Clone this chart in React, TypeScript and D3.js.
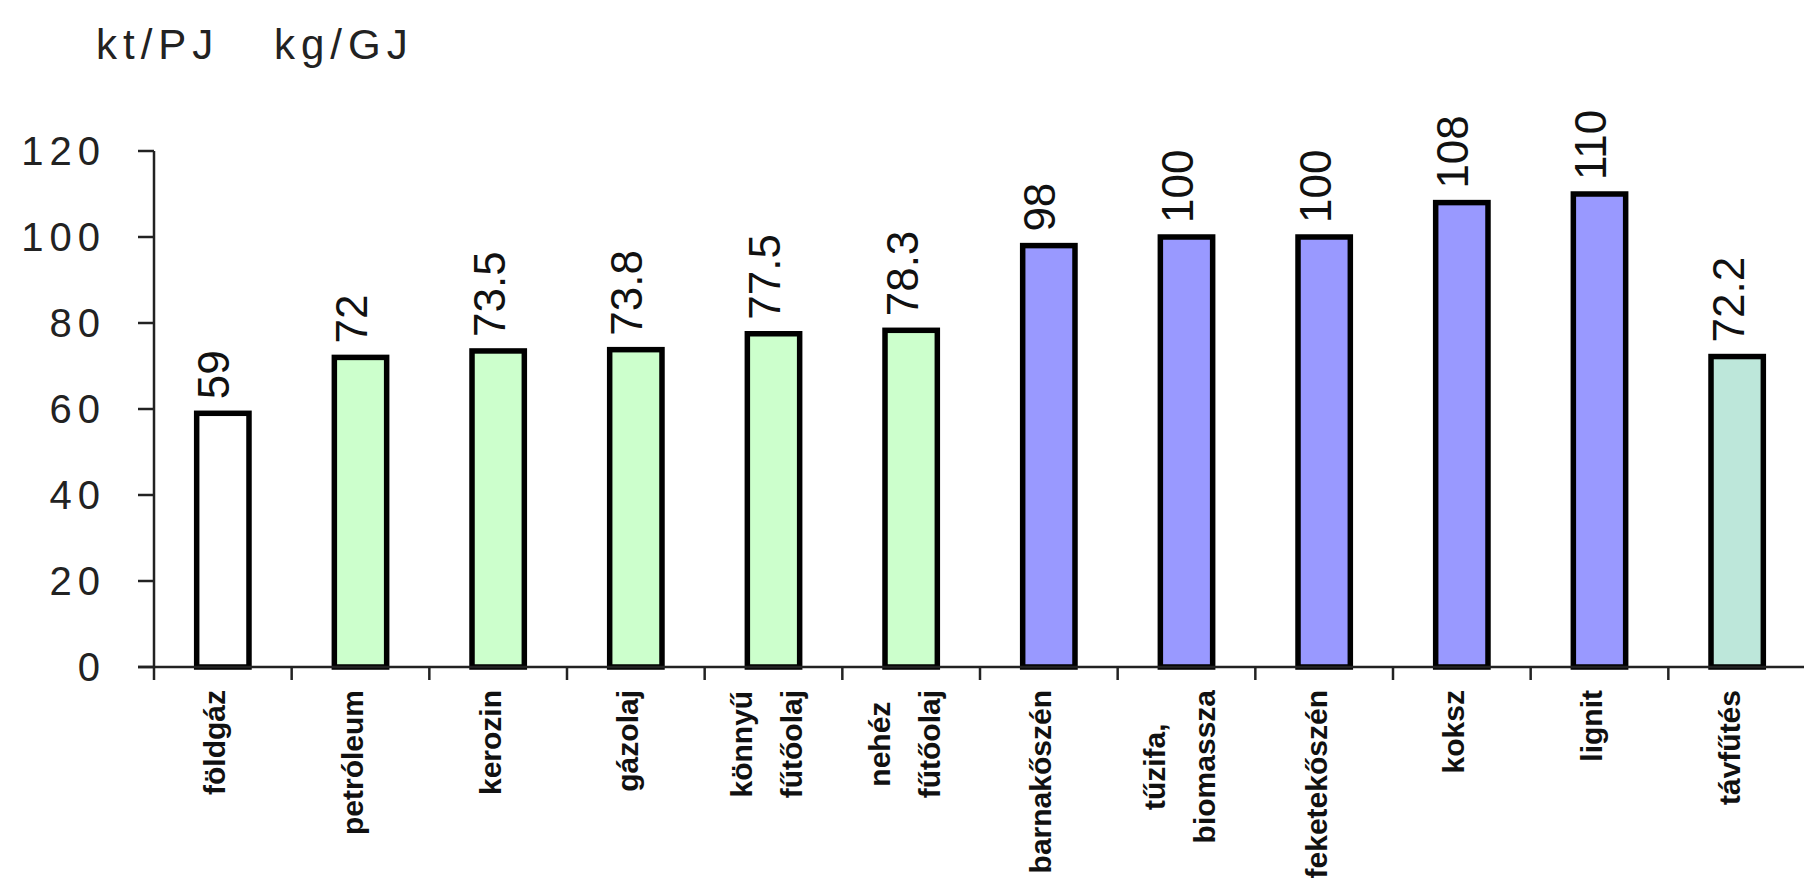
import React from 'react';
import * as d3 from 'd3';

const categories = [
  'földgáz', 'petróleum', 'kerozin', 'gázolaj', 'könnyű\nfűtőolaj', 'nehéz\nfűtőolaj',
  'barnakőszén', 'tűzifa,\nbiomassza', 'feketekőszén', 'koksz', 'lignit', 'távfűtés',
];
const values = [59, 72, 73.5, 73.8, 77.5, 78.3, 98, 100, 100, 108, 110, 72.2];
const groups = ['gas', 'oil', 'oil', 'oil', 'oil', 'oil', 'coal', 'coal', 'coal', 'coal', 'coal', 'heat'];
const groupNames = ['gas', 'oil', 'coal', 'heat'];
const groupColors = ['#ffffff', '#ccffcc', '#9999ff', '#bde7da'];
const yTicks = [0, 20, 40, 60, 80, 100, 120];
const unitLabels = ['kt/PJ', 'kg/GJ'];

const W = 1804;
const H = 884;
const catFont = 'bold 30px "Liberation Sans", Arial, sans-serif';

function measure(text: string, font: string): number {
  const ctx = document.createElement('canvas').getContext('2d');
  if (!ctx) return text.length * 15;
  ctx.font = font;
  return ctx.measureText(text).width;
}

export default function App() {
  const x = d3.scaleBand<string>().domain(categories).range([154, 1806]).padding(0);
  const y = d3.scaleLinear().domain([0, 120]).range([667, 151]);
  const color = d3.scaleOrdinal<string, string>().domain(groupNames).range(groupColors);
  const bw = x.bandwidth() * 0.38;
  const y0 = y(0);

  return (
    <svg width={W} height={H} style={{ position: 'absolute', left: 0, top: 0, background: '#fff' }}
      fontFamily='"Liberation Sans", Arial, sans-serif'>
      {/* unit labels */}
      <text x={96} y={59} fontSize={42} letterSpacing={6} fill="#222">{unitLabels[0]}</text>
      <text x={274} y={59} fontSize={42} letterSpacing={6} fill="#222">{unitLabels[1]}</text>

      {/* bars */}
      {categories.map((c, i) => {
        const cx = (x(c) as number) + x.bandwidth() / 2;
        return (
          <rect key={c} x={cx - bw / 2} y={y(values[i])} width={bw} height={y0 - y(values[i])}
            fill={color(groups[i])} stroke="#000" strokeWidth={5.5} />
        );
      })}

      {/* y axis */}
      <line x1={154} x2={154} y1={y(120)} y2={y0} stroke="#222" strokeWidth={2.5} />
      {yTicks.map((t) => (
        <g key={t}>
          <line x1={138} x2={154} y1={y(t)} y2={y(t)} stroke="#222" strokeWidth={2.5} />
          <text x={106} y={y(t)} fontSize={40} letterSpacing={6} textAnchor="end"
            dominantBaseline="central" fill="#222">{String(t)}</text>
        </g>
      ))}

      {/* x axis */}
      <line x1={138} x2={W} y1={y0} y2={y0} stroke="#222" strokeWidth={2.5} />
      {categories.map((c) => (
        <line key={'t' + c} x1={x(c) as number} x2={x(c) as number} y1={y0} y2={y0 + 13}
          stroke="#222" strokeWidth={2.5} />
      ))}

      {/* value labels */}
      {categories.map((c, i) => {
        const cx = (x(c) as number) + x.bandwidth() / 2;
        return (
          <g key={'v' + c} transform={`translate(${cx - 9},${y(values[i]) - 14}) rotate(-90)`}>
            <text fontSize={44} dominantBaseline="central" fill="#111">{String(values[i])}</text>
          </g>
        );
      })}

      {/* category labels */}
      {categories.map((c) => {
        const cx = (x(c) as number) + x.bandwidth() / 2;
        const lines = c.split('\n');
        const L = Math.max(...lines.map((l) => measure(l, catFont)));
        return (
          <g key={'c' + c} transform={`translate(${cx},690) rotate(-90)`}>
            {lines.length === 1 ? (
              <text y={-8} textAnchor="end" dominantBaseline="central" fontSize={30}
                fontWeight="bold" fill="#111">{lines[0]}</text>
            ) : (
              lines.map((l, k) => (
                <text key={k} x={-L / 2} y={k === 0 ? -32 : 18} textAnchor="middle"
                  dominantBaseline="central" fontSize={30} fontWeight="bold" fill="#111">{l}</text>
              ))
            )}
          </g>
        );
      })}
    </svg>
  );
}
